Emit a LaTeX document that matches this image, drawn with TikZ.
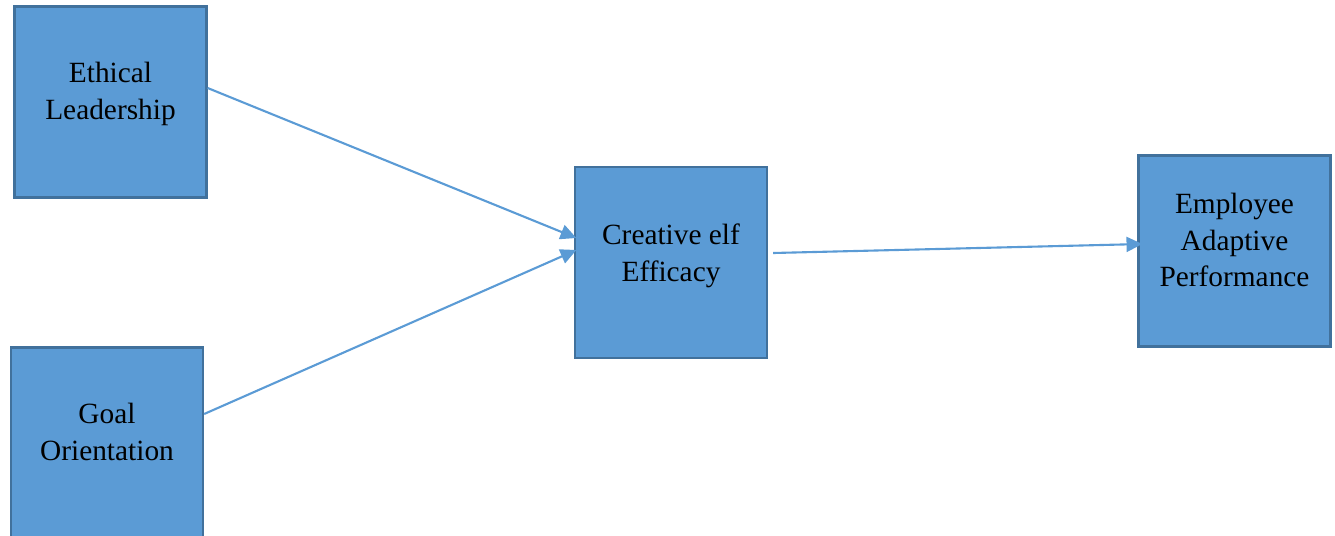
\documentclass[tikz,border=0pt]{standalone}
\usepackage{fontspec}
\setmainfont{Liberation Serif}
\usetikzlibrary{arrows.meta}

\definecolor{boxfill}{HTML}{5B9BD5}
\definecolor{boxline}{HTML}{41719C}

\tikzset{
  box/.style={draw=boxline, fill=boxfill, line width=1.3pt,
    minimum width=3.84cm, minimum height=3.82cm, inner sep=0pt},
  txt/.style={align=center, font=\fontsize{16.7}{21}\selectfont},
  link/.style={draw=boxfill, line width=1.2pt,
    -{Triangle[length=9pt,width=8.5pt]}}
}

\begin{document}
\begin{tikzpicture}
\useasboundingbox (0,0) rectangle (26.7,-10.7);
\begin{scope}
\clip (0,0) rectangle (26.7,-10.7);
\draw[] 
(2.21,-2.04) node[box, label={[txt, yshift=0.16cm]center:Ethical\\Leadership}] (el) {}
(2.14,-8.86) node[box, label={[txt, yshift=0.22cm]center:Goal\\Orientation}] (go) {}
(13.42,-5.25) node[box, label={[txt, yshift=0.14cm]center:Creative elf\\Efficacy}] (cse) {}
(24.69,-5.02) node[box, label={[txt, yshift=0.22cm]center:Employee\\Adaptive\\Performance}] (eap) {};
\end{scope}

\draw[link] ([yshift=0.28cm]el.east) -- ([yshift=0.49cm, xshift=0.05cm]cse.west);
\draw[link] ([yshift=0.58cm]go.east) -- ([yshift=0.25cm, xshift=0.05cm]cse.west);
\draw[link] ([yshift=0.19cm, xshift=0.1cm]cse.east) -- ([yshift=0.14cm, xshift=0.1cm]eap.west);
\end{tikzpicture}
\end{document}
